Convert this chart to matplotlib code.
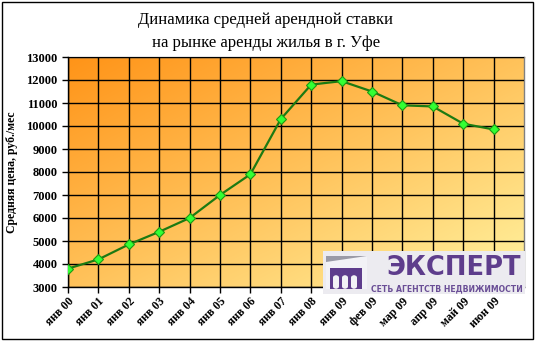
import matplotlib.pyplot as plt
import numpy as np
from matplotlib.colors import LinearSegmentedColormap
from matplotlib.patches import Rectangle, Polygon, FancyBboxPatch

# data
months = ['янв 00', 'янв 01', 'янв 02', 'янв 03', 'янв 04', 'янв 05', 'янв 06',
          'янв 07', 'янв 08', 'янв 09', 'фев 09', 'мар 09', 'апр 09', 'май 09', 'июн 09']
rent = [3800, 4200, 4850, 5400, 6000, 7000, 7900,
        10300, 11800, 11950, 11500, 10900, 10850, 10100, 9850]

W, H = 536, 342
fig = plt.figure(figsize=(W / 100, H / 100), dpi=100)
fig.patch.set_facecolor('white')

ax = fig.add_axes([68 / W, 1 - 287 / H, 456 / W, 230 / H])

# diagonal orange (top-left) -> pale yellow (bottom-right) gradient
cmap = LinearSegmentedColormap.from_list('bg', ['#FF9418', '#FFC25A', '#FFF3A0'])
gx, gy = np.meshgrid(np.linspace(0, 1, 200), np.linspace(0, 1, 200))
grad = (gx + gy) / 2
ax.imshow(grad, cmap=cmap, extent=[0, 15, 3000, 13000], aspect='auto',
          origin='upper', zorder=0)

x = np.arange(len(months))
ax.plot(x, rent, color='#1C7A12', lw=1.6, zorder=3,
        marker='D', markersize=5, markerfacecolor='#33FF33',
        markeredgecolor='#1C9A12', markeredgewidth=0.8)

ax.set_xlim(0, 15)
ax.set_ylim(3000, 13000)
ax.set_yticks(np.arange(3000, 13001, 1000))
ax.set_xticks(x)
ax.set_xticklabels(months, rotation=45, ha='right', rotation_mode='anchor',
                   fontsize=8.5, fontweight='bold', family='Liberation Serif')
for lab in ax.get_yticklabels():
    lab.set_fontsize(9)
    lab.set_fontweight('bold')
    lab.set_family('Liberation Serif')
ax.grid(True, color='black', lw=1, zorder=1)
ax.set_axisbelow(False)
ax.tick_params(axis='both', length=4, width=1, color='black', direction='out')
ax.tick_params(axis='x', pad=2)
for s in ax.spines.values():
    s.set_linewidth(1)
ax.spines['top'].set_color('#808080')
ax.spines['right'].set_color('#808080')
ax.set_ylabel('Средняя цена, руб./мес', fontsize=8.5, fontweight='bold',
              family='Liberation Serif', labelpad=6)

fig.text(266 / W, 1 - 20 / H, 'Динамика средней арендной ставки',
         ha='center', va='center', fontsize=12, family='Liberation Serif')
fig.text(266 / W, 1 - 43 / H, 'на рынке аренды жилья в г. Уфе',
         ha='center', va='center', fontsize=12, family='Liberation Serif')

# logo block
def fx(px):
    return px / W

def fy(py):
    return 1 - py / H

fig.patches.append(Rectangle((fx(323), fy(294)), fx(525) - fx(323), fy(251) - fy(294),
                             transform=fig.transFigure, facecolor='#ECEBF0',
                             edgecolor='none', zorder=5))
fig.patches.append(Polygon([(fx(326), fy(256)), (fx(367), fy(256)),
                            (fx(367), fy(289)), (fx(326), fy(289))],
                           closed=True, transform=fig.transFigure,
                           facecolor='#9A9AA6', edgecolor='none', zorder=6))
fig.patches.append(Polygon([(fx(326), fy(262)), (fx(367), fy(256)),
                            (fx(367), fy(289)), (fx(326), fy(289))],
                           closed=True, transform=fig.transFigure,
                           facecolor='#F2F2F6', edgecolor='none', zorder=6))
fig.patches.append(Rectangle((fx(330), fy(289)), fx(362) - fx(330), fy(268) - fy(289),
                             transform=fig.transFigure, facecolor='#5E3D8C',
                             edgecolor='none', zorder=7))
for ax0 in (333, 342, 351):
    fig.patches.append(FancyBboxPatch((fx(ax0), fy(289)), fx(ax0 + 6) - fx(ax0),
                                      fy(275) - fy(289),
                                      boxstyle='round,pad=0,rounding_size=0.008',
                                      transform=fig.transFigure, facecolor='#F2F2F6',
                                      edgecolor='none', zorder=8))
fig.text(fx(386), fy(268), 'ЭКСПЕРТ', ha='left', va='center', fontsize=18.5,
         fontweight='heavy', color='#5E3D8C', family='DejaVu Sans', zorder=9)
fig.text(fx(371), fy(289), 'СЕТЬ АГЕНТСТВ НЕДВИЖИМОСТИ', ha='left', va='center',
         fontsize=5.6, fontweight='bold', color='#6A4E96', family='DejaVu Sans', zorder=9)

# outer frame
fig.patches.append(Rectangle((fx(2), fy(339)), fx(533) - fx(2), fy(2) - fy(339),
                             transform=fig.transFigure, facecolor='none',
                             edgecolor='black', lw=1, zorder=10))

fig.savefig('out.png', dpi=100)
